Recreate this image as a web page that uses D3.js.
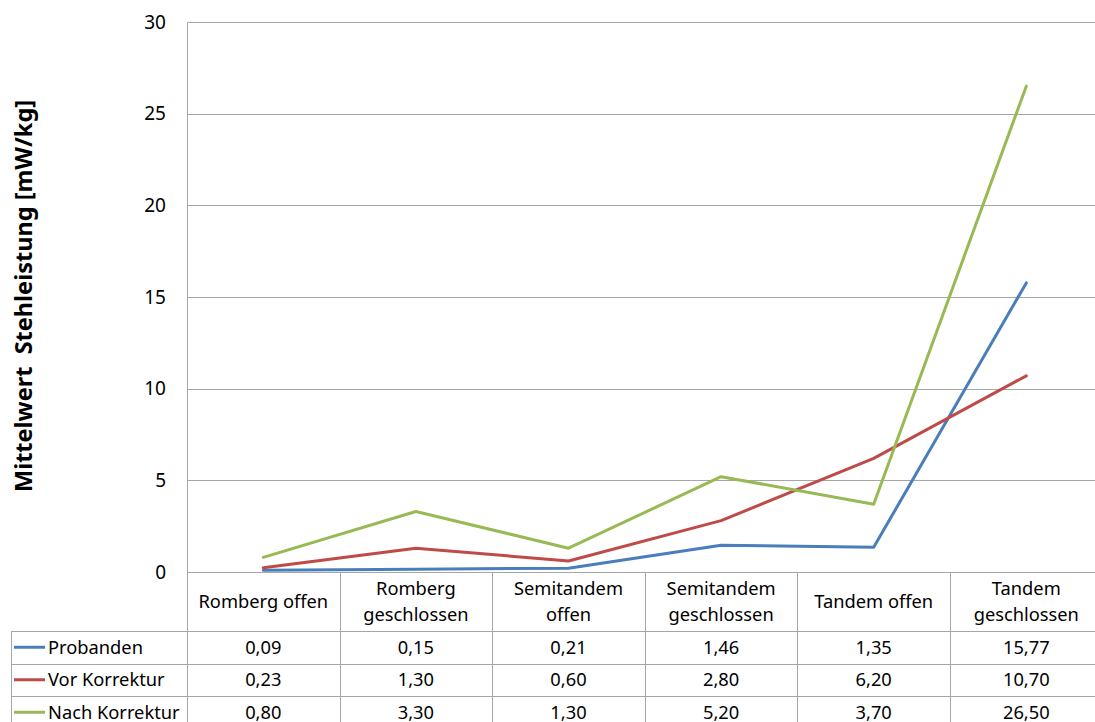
<!DOCTYPE html>
<html>
<head>
<meta charset="utf-8">
<script src="https://cdn.jsdelivr.net/npm/d3@7"></script>
<style>
  html, body { margin: 0; padding: 0; background: #fff; overflow: hidden; }
  svg { display: block; font-family: "Noto Sans", "DejaVu Sans", sans-serif; }
</style>
</head>
<body>
<svg id="chart" width="1095" height="722"></svg>
<script>
// Balance tests: mean standing power per condition
const categories = [
  ["Romberg offen"],
  ["Romberg", "geschlossen"],
  ["Semitandem", "offen"],
  ["Semitandem", "geschlossen"],
  ["Tandem offen"],
  ["Tandem", "geschlossen"]
];
const seriesNames = ["Probanden", "Vor Korrektur", "Nach Korrektur"];
const seriesColors = ["#4A7EBB", "#BE4B48", "#98B954"];
const probanden = [0.09, 0.15, 0.21, 1.46, 1.35, 15.77];
const vorKorrektur = [0.23, 1.30, 0.60, 2.80, 6.20, 10.70];
const nachKorrektur = [0.80, 3.30, 1.30, 5.20, 3.70, 26.50];
const yTicks = [0, 5, 10, 15, 20, 25, 30];
const yTitle = "Mittelwert\u00a0 Stehleistung [mW/kg]";

const series = [probanden, vorKorrektur, nachKorrektur];
const fmt = v => v.toFixed(2).replace(".", ",");

const svg = d3.select("#chart");
const W = 1095, H = 722;

const plotLeft = 187, colW = 152.6;
const plotTop = 22, plotBottom = 572;
const rowH = 32.5, headerBottom = 631;
const tableLeft = 11;
const gridColor = "#a6a6a6";
const textSize = 18.3;

const keys = categories.map((c, i) => i);
const x = d3.scaleBand().domain(keys).range([plotLeft, plotLeft + colW * categories.length]).padding(0);
const y = d3.scaleLinear().domain([0, 30]).range([plotBottom, plotTop]);

// horizontal gridlines
svg.append("g").selectAll("line").data(yTicks.filter(t => t > 0)).join("line")
  .attr("x1", plotLeft).attr("x2", W + 10)
  .attr("y1", d => Math.round(y(d)) + 0.5).attr("y2", d => Math.round(y(d)) + 0.5)
  .attr("stroke", gridColor).attr("stroke-width", 1);

// y tick labels
svg.append("g").selectAll("text").data(yTicks).join("text")
  .attr("x", 166).attr("y", d => y(d)).attr("dy", "0.35em")
  .attr("text-anchor", "end").attr("font-size", 19).attr("fill", "#000")
  .text(d => d);

// y axis title
svg.append("text")
  .attr("transform", `translate(32,${296}) rotate(-90)`)
  .attr("text-anchor", "middle").attr("font-size", 23.5).attr("font-weight", "bold")
  .attr("fill", "#000")
  .text(yTitle);

// table grid
const tableRows = seriesNames.length;
const tableBottom = headerBottom + rowH * tableRows;
const g = svg.append("g").attr("stroke", gridColor).attr("stroke-width", 1).attr("shape-rendering", "crispEdges");
// vertical axis line and column separators
g.append("line").attr("x1", plotLeft + 0.5).attr("x2", plotLeft + 0.5).attr("y1", plotTop).attr("y2", tableBottom);
g.selectAll("line.sep").data(keys.slice(1)).join("line").attr("class", "sep")
  .attr("x1", d => Math.round(x(d)) + 0.5).attr("x2", d => Math.round(x(d)) + 0.5)
  .attr("y1", plotBottom).attr("y2", tableBottom);
// zero line / header top
g.append("line").attr("x1", plotLeft).attr("x2", W + 10).attr("y1", plotBottom + 0.5).attr("y2", plotBottom + 0.5);
// row lines
g.selectAll("line.row").data(d3.range(tableRows + 1)).join("line").attr("class", "row")
  .attr("x1", tableLeft).attr("x2", W + 10)
  .attr("y1", d => Math.round(headerBottom + d * rowH) + 0.5)
  .attr("y2", d => Math.round(headerBottom + d * rowH) + 0.5);
g.append("line").attr("x1", tableLeft + 0.5).attr("x2", tableLeft + 0.5).attr("y1", headerBottom).attr("y2", tableBottom);

// category header labels
const hdrMid = (plotBottom + headerBottom) / 2;
const lineGap = 25.5;
const hdr = svg.append("g").selectAll("text").data(categories).join("text")
  .attr("x", (d, i) => x(i) + x.bandwidth() / 2)
  .attr("text-anchor", "middle").attr("font-size", textSize).attr("fill", "#000");
hdr.each(function(d) {
  const t = d3.select(this);
  const n = d.length;
  d.forEach((s, k) => {
    t.append("tspan").attr("x", t.attr("x"))
      .attr("y", hdrMid + (k - (n - 1) / 2) * lineGap).attr("dy", "0.35em").text(s);
  });
});

// table rows: legend key + values
series.forEach((vals, si) => {
  const cy = headerBottom + (si + 0.5) * rowH;
  svg.append("line").attr("x1", 14).attr("x2", 45).attr("y1", cy).attr("y2", cy)
    .attr("stroke", seriesColors[si]).attr("stroke-width", 3);
  svg.append("text").attr("x", 48).attr("y", cy).attr("dy", "0.35em")
    .attr("font-size", textSize).attr("fill", "#000").text(seriesNames[si]);
  svg.append("g").selectAll("text").data(vals).join("text")
    .attr("x", (d, i) => x(i) + x.bandwidth() / 2).attr("y", cy).attr("dy", "0.35em")
    .attr("text-anchor", "middle").attr("font-size", textSize).attr("fill", "#000")
    .text(fmt);
});

// series lines
const line = d3.line().x((d, i) => x(i) + x.bandwidth() / 2).y(d => y(d));
svg.append("g").selectAll("path").data(series).join("path")
  .attr("d", line).attr("fill", "none")
  .attr("stroke", (d, i) => seriesColors[i]).attr("stroke-width", 3)
  .attr("stroke-linejoin", "round").attr("stroke-linecap", "round");
</script>
</body>
</html>
